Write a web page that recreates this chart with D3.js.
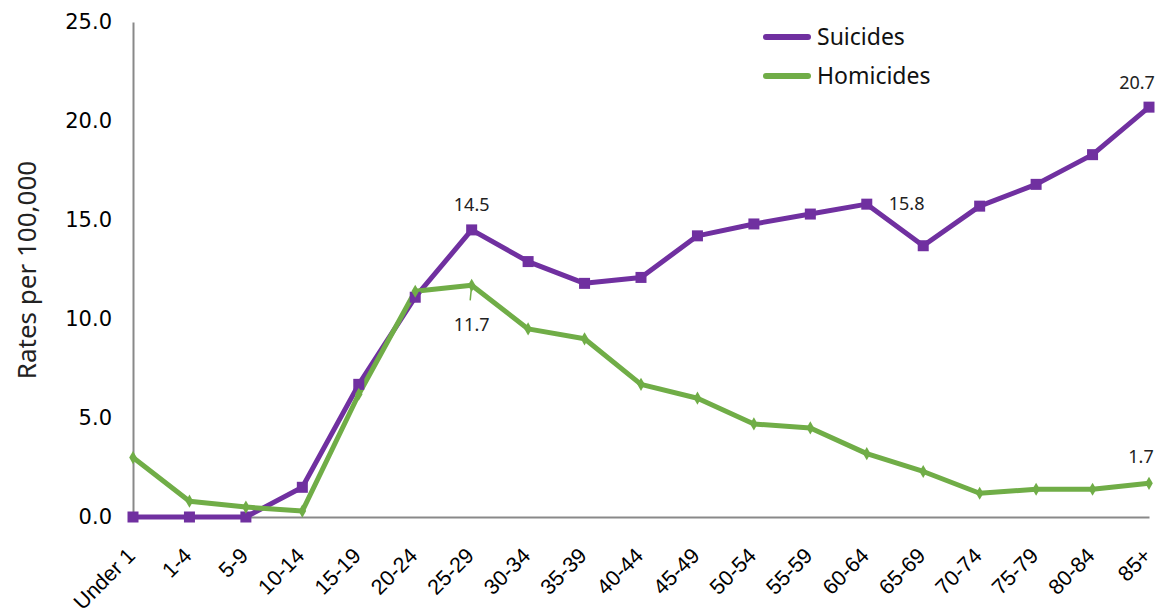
<!DOCTYPE html>
<html><head><meta charset="utf-8">
<script src="https://cdn.jsdelivr.net/npm/d3@7"></script>
<style>body{margin:0;background:#fff;} svg{display:block;font-family:"Noto Sans",sans-serif;}</style>
</head><body><svg id="c" width="1158" height="615"></svg>
<script>
const categories = ["Under 1","1-4","5-9","10-14","15-19","20-24","25-29","30-34","35-39","40-44","45-49","50-54","55-59","60-64","65-69","70-74","75-79","80-84","85+"];
const suicides = [0,0,0,1.5,6.7,11.1,14.5,12.9,11.8,12.1,14.2,14.8,15.3,15.8,13.7,15.7,16.8,18.3,20.7];
const homicides = [3.0,0.8,0.5,0.3,6.2,11.4,11.7,9.5,9.0,6.7,6.0,4.7,4.5,3.2,2.3,1.2,1.4,1.4,1.7];
const yTicks = [0,5,10,15,20,25];
const seriesNames = ["Suicides","Homicides"];
const colors = ["#7030A0","#70AD47"];

const svg = d3.select("#c");
const x = d3.scalePoint().domain(categories).range([133,1149]);
const y = d3.scaleLinear().domain([0,25]).range([517,22]);

// axes
const yAxis = svg.append("g").attr("transform","translate(133,0)")
  .call(d3.axisLeft(y).tickValues(yTicks).tickFormat(d3.format(".1f")).tickSize(0).tickPadding(21));
yAxis.select(".domain").attr("stroke","#898989").attr("stroke-width",2);
yAxis.selectAll("text").attr("font-size",21).attr("font-family","DejaVu Sans").attr("fill","#000");

const xAxis = svg.append("g").attr("transform","translate(0,517)")
  .call(d3.axisBottom(x).tickSize(0).tickPadding(0));
xAxis.select(".domain").attr("stroke","#898989").attr("stroke-width",2);
xAxis.selectAll("text").attr("font-size",21.5).attr("fill","#000")
  .attr("text-anchor","end").attr("dy",0)
  .attr("transform",d=>"translate(3,40) rotate(-45)");

svg.append("text").attr("transform","translate(36,270) rotate(-90)")
  .attr("text-anchor","middle").attr("font-size",26).attr("fill","#222").text("Rates per 100,000");

const line = d3.line().x((d,i)=>x(categories[i])).y(d=>y(d));
[suicides,homicides].forEach((s,k)=>{
  svg.append("path").datum(s).attr("d",line).attr("fill","none")
    .attr("stroke",colors[k]).attr("stroke-width",5).attr("stroke-linejoin","round");
});
// markers
svg.selectAll(".sq").data(suicides).enter().append("rect")
  .attr("x",(d,i)=>x(categories[i])-5.5).attr("y",d=>y(d)-5.5)
  .attr("width",11).attr("height",11).attr("fill",colors[0]);
svg.selectAll(".dm").data(homicides).enter().append("path")
  .attr("d",d3.symbol().type(d3.symbolDiamond).size(50))
  .attr("transform",(d,i)=>`translate(${x(categories[i])},${y(d)})`).attr("fill",colors[1]);

// data labels
const lab = (cat, val, dx, dy, anchor) => svg.append("text")
  .attr("x",x(cat)+dx).attr("y",y(val)+dy).attr("text-anchor",anchor)
  .attr("font-size",18).attr("fill","#222").text(val.toFixed(1));
lab("25-29",suicides[6],0,-19,"middle");
lab("25-29",homicides[6],0,46,"middle");
svg.append("line").attr("x1",x("25-29")).attr("x2",x("25-29")-1.5)
  .attr("y1",y(homicides[6])).attr("y2",y(homicides[6])+15).attr("stroke",colors[1]).attr("stroke-width",1.5);
lab("60-64",suicides[13],22,6,"start");
lab("85+",suicides[18],-12,-18,"middle");
lab("85+",homicides[18],-8,-20,"middle");

// legend
seriesNames.forEach((n,k)=>{
  const ly = 37 + k*39;
  svg.append("line").attr("x1",766).attr("x2",808).attr("y1",ly).attr("y2",ly)
    .attr("stroke",colors[k]).attr("stroke-width",6).attr("stroke-linecap","round");
  svg.append("text").attr("x",817).attr("y",ly+8).attr("font-size",23).attr("fill","#111").text(n);
});
</script></body></html>
